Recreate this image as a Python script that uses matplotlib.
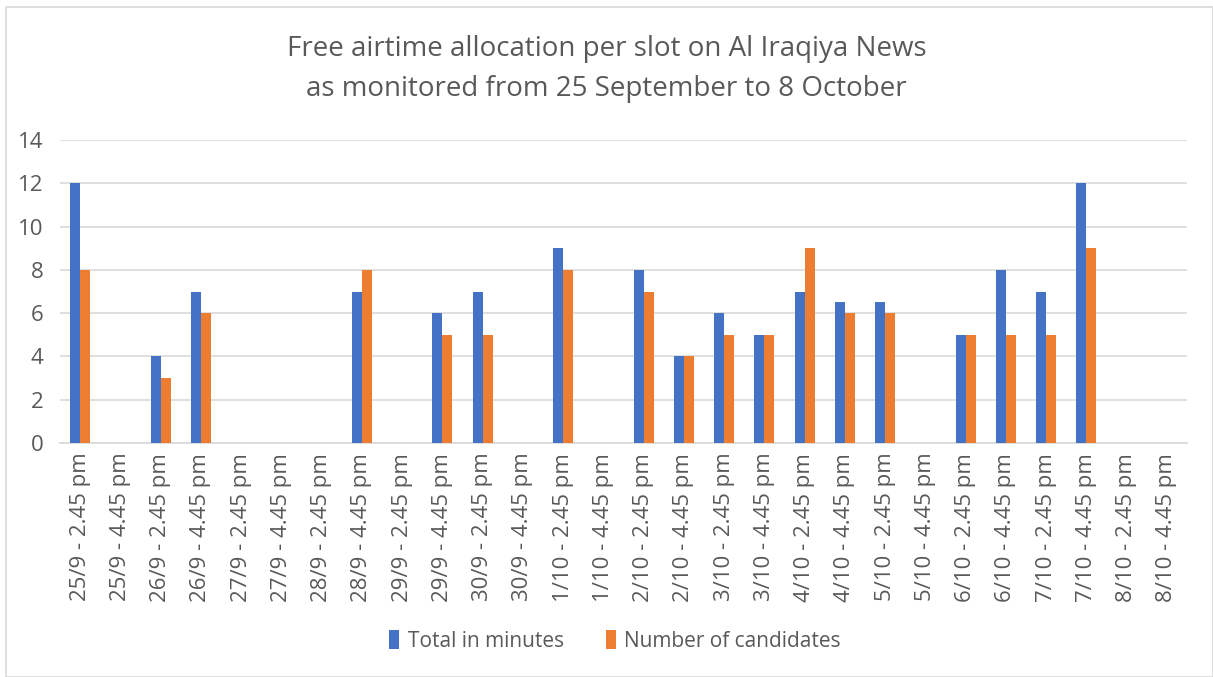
import matplotlib
matplotlib.use("Agg")
import matplotlib.pyplot as plt
import numpy as np
from matplotlib.patches import Rectangle

categories = [
    "25/9 - 2.45 pm", "25/9 - 4.45 pm", "26/9 - 2.45 pm", "26/9 - 4.45 pm",
    "27/9 - 2.45 pm", "27/9 - 4.45 pm", "28/9 - 2.45 pm", "28/9 - 4.45 pm",
    "29/9 - 2.45 pm", "29/9 - 4.45 pm", "30/9 - 2.45 pm", "30/9 - 4.45 pm",
    "1/10 - 2.45 pm", "1/10 - 4.45 pm", "2/10 - 2.45 pm", "2/10 - 4.45 pm",
    "3/10 - 2.45 pm", "3/10 - 4.45 pm", "4/10 - 2.45 pm", "4/10 - 4.45 pm",
    "5/10 - 2.45 pm", "5/10 - 4.45 pm", "6/10 - 2.45 pm", "6/10 - 4.45 pm",
    "7/10 - 2.45 pm", "7/10 - 4.45 pm", "8/10 - 2.45 pm", "8/10 - 4.45 pm",
]
total_minutes = [12, 0, 4, 7, 0, 0, 0, 7, 0, 6, 7, 0, 9, 0, 8, 4,
                 6, 5, 7, 6.5, 6.5, 0, 5, 8, 7, 12, 0, 0]
num_candidates = [8, 0, 3, 6, 0, 0, 0, 8, 0, 5, 5, 0, 8, 0, 7, 4,
                  5, 5, 9, 6, 6, 0, 5, 5, 5, 9, 0, 0]
yticks = [0, 2, 4, 6, 8, 10, 12, 14]
title = "Free airtime allocation per slot on Al Iraqiya News\nas monitored from 25 September to 8 October"

BLUE = "#4472C4"
ORANGE = "#ED7D31"
TXT = "#595959"
GRID = "#D9D9D9"
FONT = "Open Sans"

fig = plt.figure(figsize=(12.13, 6.77), dpi=100)
fig.patches.append(Rectangle((6/1213, 0), 1 - 6/1213, 1 - 7/677, transform=fig.transFigure,
                             fill=False, edgecolor=GRID, linewidth=1.2, zorder=0))
ax = fig.add_axes([60/1213, 1 - 443/677, (1187 - 60)/1213, (443 - 140)/677])

x = np.arange(len(categories))
w = 0.25
ax.bar(x - w/2, total_minutes, width=w, color=BLUE, label="Total in minutes", zorder=3)
ax.bar(x + w/2, num_candidates, width=w, color=ORANGE, label="Number of candidates", zorder=3)

ax.set_xlim(-0.5, len(categories) - 0.5)
ax.set_ylim(0, 14)
ax.set_yticks(yticks)
ax.yaxis.grid(True, color=GRID, linewidth=1.2, zorder=0)
ax.set_axisbelow(True)
for s in ["top", "right", "left"]:
    ax.spines[s].set_visible(False)
ax.spines["bottom"].set_color(GRID)
ax.spines["bottom"].set_linewidth(1.2)
ax.tick_params(axis="both", length=0, colors=TXT, labelsize=16)
ax.tick_params(axis="y", pad=12)
ax.tick_params(axis="x", pad=7)
ax.set_xticks(x)
ax.set_xticklabels(categories, rotation=90, fontfamily=FONT)
for lab in ax.get_yticklabels():
    lab.set_fontfamily(FONT)

fig.text(0.5, 1 - 69/677, title, ha="center", va="center", fontsize=20,
         color=TXT, fontfamily=FONT, linespacing=1.6)

leg = fig.legend(loc="center", bbox_to_anchor=(615/1213, 1 - 641/677), ncol=2, frameon=False,
                 prop={"family": FONT, "size": 15}, handlelength=0.5, handleheight=1.0,
                 columnspacing=2.0, handletextpad=0.4)
for t in leg.get_texts():
    t.set_color(TXT)

fig.savefig("out.png", dpi=100)
